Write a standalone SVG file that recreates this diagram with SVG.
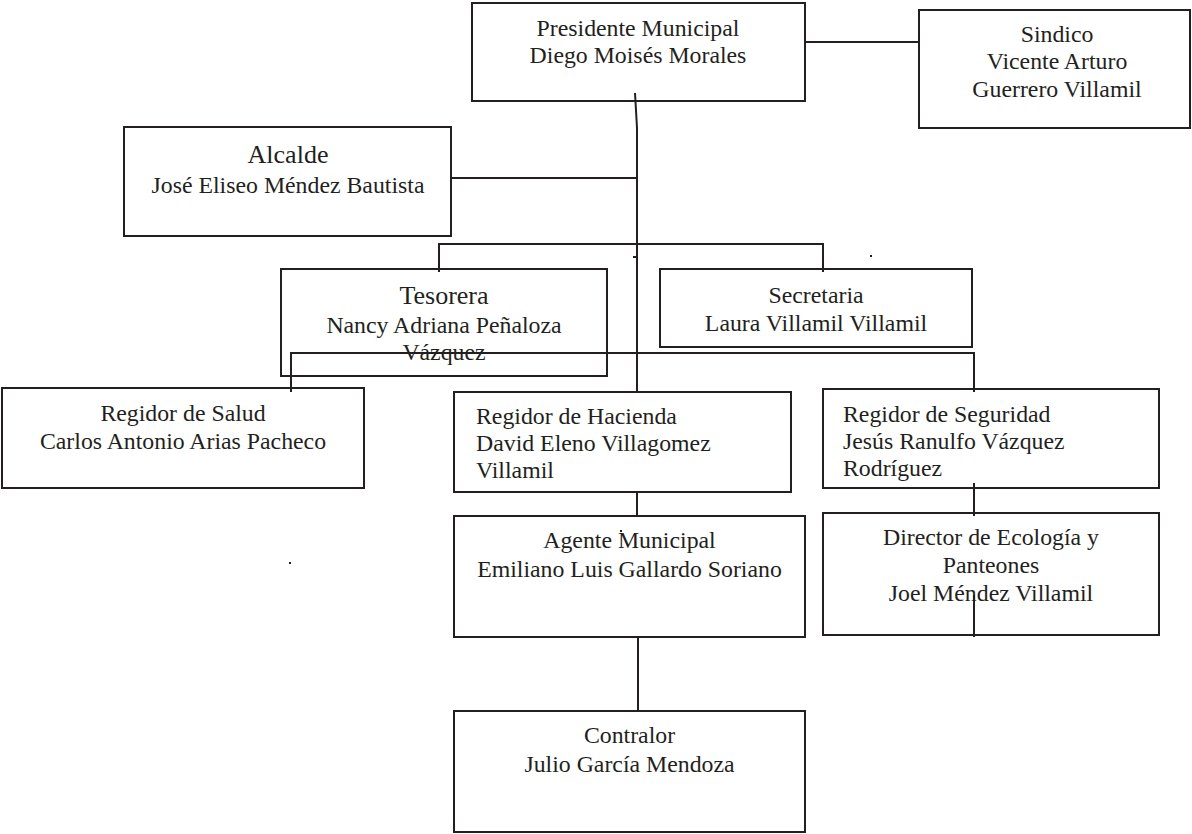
<svg xmlns="http://www.w3.org/2000/svg" width="1192" height="834" viewBox="0 0 1192 834">
<style>
  .box { fill: none; stroke: #231f20; stroke-width: 2; }
  .ln { fill: none; stroke: #231f20; stroke-width: 2; }
  text { font-family: "Liberation Serif", "Times New Roman", serif; font-size: 23.8px; fill: #231f20; }
  .c { text-anchor: middle; }
  .big { font-size: 26px; }
  .dot { fill: #231f20; }
</style>
<rect width="1192" height="834" fill="#ffffff"/>

<g id="connectors">
  <path class="ln" d="M805,42 H919"/>
  <path class="ln" d="M635,93 L637,128 V392"/>
  <path class="ln" d="M451,178 H637"/>
  <path class="ln" d="M439,272 V244 H823 V272"/>
  <path class="ln" d="M633,257 H637"/>
  <path class="ln" d="M291,392 V353 H974 V392"/>
  <path class="ln" d="M637,492 V516"/>
  <path class="ln" d="M638,637 V711"/>
  <path class="ln" d="M974,483 V516"/>
  <path class="ln" d="M974,595 V637"/>
  <rect class="dot" x="870" y="255" width="2" height="2"/>
  <rect class="dot" x="289" y="562" width="2" height="2"/>
  <rect class="dot" x="620" y="530" width="2" height="2"/>
</g>

<g id="presidente">
  <rect class="box" x="472" y="3" width="333" height="98"/>
  <text class="c" x="638" y="36">Presidente Municipal</text>
  <text class="c" x="638" y="63">Diego Moisés Morales</text>
</g>

<g id="sindico">
  <rect class="box" x="919" y="10" width="271" height="118"/>
  <text class="c" x="1057" y="42">Sindico</text>
  <text class="c" x="1057" y="69">Vicente Arturo</text>
  <text class="c" x="1057" y="97">Guerrero Villamil</text>
</g>

<g id="alcalde">
  <rect class="box" x="124" y="127" width="327" height="109"/>
  <text class="c big" x="288" y="163">Alcalde</text>
  <text class="c" x="288" y="193">José Eliseo Méndez Bautista</text>
</g>

<g id="tesorera">
  <rect class="box" x="281" y="269" width="326" height="107"/>
  <text class="c big" x="444" y="304">Tesorera</text>
  <text class="c" x="444" y="333">Nancy Adriana Peñaloza</text>
  <text class="c" x="444" y="360">Vázquez</text>
</g>

<g id="secretaria">
  <rect class="box" x="660" y="269" width="312" height="78"/>
  <text class="c" x="816" y="303">Secretaria</text>
  <text class="c" x="816" y="331">Laura Villamil Villamil</text>
</g>

<g id="salud">
  <rect class="box" x="2" y="388" width="362" height="100"/>
  <text class="c" x="183" y="421">Regidor de Salud</text>
  <text class="c" x="183" y="449">Carlos Antonio Arias Pacheco</text>
</g>

<g id="hacienda">
  <rect class="box" x="454" y="392" width="337" height="100"/>
  <text x="476" y="424">Regidor de Hacienda</text>
  <text x="476" y="451">David Eleno Villagomez</text>
  <text x="476" y="478">Villamil</text>
</g>

<g id="seguridad">
  <rect class="box" x="823" y="389" width="336" height="99"/>
  <text x="843" y="422">Regidor de Seguridad</text>
  <text x="843" y="449">Jesús Ranulfo Vázquez</text>
  <text x="843" y="476">Rodríguez</text>
</g>

<g id="agente">
  <rect class="box" x="454" y="516" width="351" height="121"/>
  <text class="c" x="629.5" y="548">Agente Municipal</text>
  <text class="c" x="629.5" y="577">Emiliano Luis Gallardo Soriano</text>
</g>

<g id="director">
  <rect class="box" x="823" y="513" width="336" height="122"/>
  <text class="c" x="991" y="545">Director de Ecología y</text>
  <text class="c" x="991" y="573">Panteones</text>
  <text class="c" x="991" y="601">Joel Méndez Villamil</text>
</g>

<g id="contralor">
  <rect class="box" x="454" y="711" width="351" height="121"/>
  <text class="c" x="629.5" y="743">Contralor</text>
  <text class="c" x="629.5" y="772">Julio García Mendoza</text>
</g>
</svg>
